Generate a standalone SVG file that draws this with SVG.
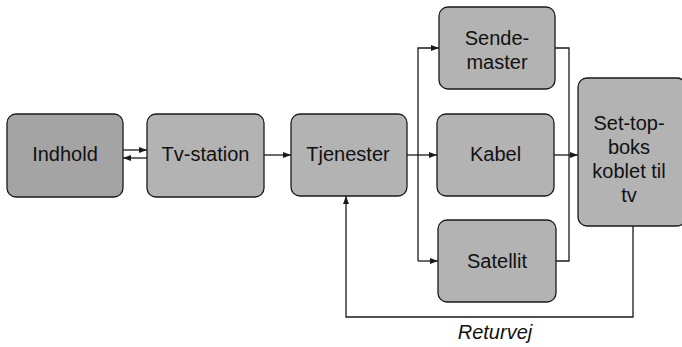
<svg xmlns="http://www.w3.org/2000/svg" width="682" height="347" viewBox="0 0 682 347">
  <style>
    .box { fill: #b3b3b3; stroke: #1a1a1a; stroke-width: 1.3; }
    .box.dark { fill: #a4a4a4; }
    .lbl { font-family: "Liberation Sans", Arial, sans-serif; font-size: 20px; fill: #111; text-anchor: middle; }
    .wire { fill: none; stroke: #1a1a1a; stroke-width: 1.3; }
    .note { font-family: "Liberation Sans", Arial, sans-serif; font-size: 20px; font-style: italic; fill: #111; text-anchor: middle; }
  </style>
  <defs>
    <marker id="arr" viewBox="0 0 8 8" refX="8" refY="4" markerWidth="8" markerHeight="8" markerUnits="userSpaceOnUse" orient="auto">
      <path d="M0,1 L8,4 L0,7 Z" fill="#1a1a1a"/>
    </marker>
  </defs>

  <g id="connectors">
    <!-- Indhold <-> Tv-station -->
    <path class="wire" d="M123,150 H147" marker-end="url(#arr)"/>
    <path class="wire" d="M147,158 H123" marker-end="url(#arr)"/>
    <!-- Tv-station -> Tjenester -->
    <path class="wire" d="M264,155 H291" marker-end="url(#arr)"/>
    <!-- Tjenester fan-out -->
    <path class="wire" d="M407,155 H437" marker-end="url(#arr)"/>
    <path class="wire" d="M418,261 V48 H439" marker-end="url(#arr)"/>
    <path class="wire" d="M418,261 H438" marker-end="url(#arr)"/>
    <!-- distribution -> set-top box -->
    <path class="wire" d="M555,48 H569 V261 H556"/>
    <path class="wire" d="M554,155 H578" marker-end="url(#arr)"/>
    <!-- return path -->
    <path class="wire" d="M633,226 V317 H346 V196" marker-end="url(#arr)"/>
    <text class="note" x="495" y="339">Returvej</text>
  </g>

  <g id="indhold">
    <rect class="box dark" x="7" y="114" width="116" height="83" rx="9"/>
    <text class="lbl" x="65" y="161">Indhold</text>
  </g>
  <g id="tv-station">
    <rect class="box" x="147" y="114" width="117" height="83" rx="9"/>
    <text class="lbl" x="205.5" y="161">Tv-station</text>
  </g>
  <g id="tjenester">
    <rect class="box" x="291" y="114" width="116" height="82" rx="9"/>
    <text class="lbl" x="348" y="161">Tjenester</text>
  </g>
  <g id="sendemaster">
    <rect class="box" x="439" y="7" width="116" height="82" rx="9"/>
    <text class="lbl" x="497" y="45">Sende-</text>
    <text class="lbl" x="497" y="69">master</text>
  </g>
  <g id="kabel">
    <rect class="box" x="437" y="114" width="117" height="82" rx="9"/>
    <text class="lbl" x="495.5" y="161">Kabel</text>
  </g>
  <g id="satellit">
    <rect class="box" x="438" y="220" width="118" height="82" rx="9"/>
    <text class="lbl" x="497" y="268">Satellit</text>
  </g>
  <g id="set-top-boks">
    <rect class="box" x="578" y="78" width="108" height="148" rx="9"/>
    <text class="lbl" x="629" y="130">Set-top-</text>
    <text class="lbl" x="629" y="154">boks</text>
    <text class="lbl" x="629" y="178">koblet til</text>
    <text class="lbl" x="629" y="202">tv</text>
  </g>
</svg>
